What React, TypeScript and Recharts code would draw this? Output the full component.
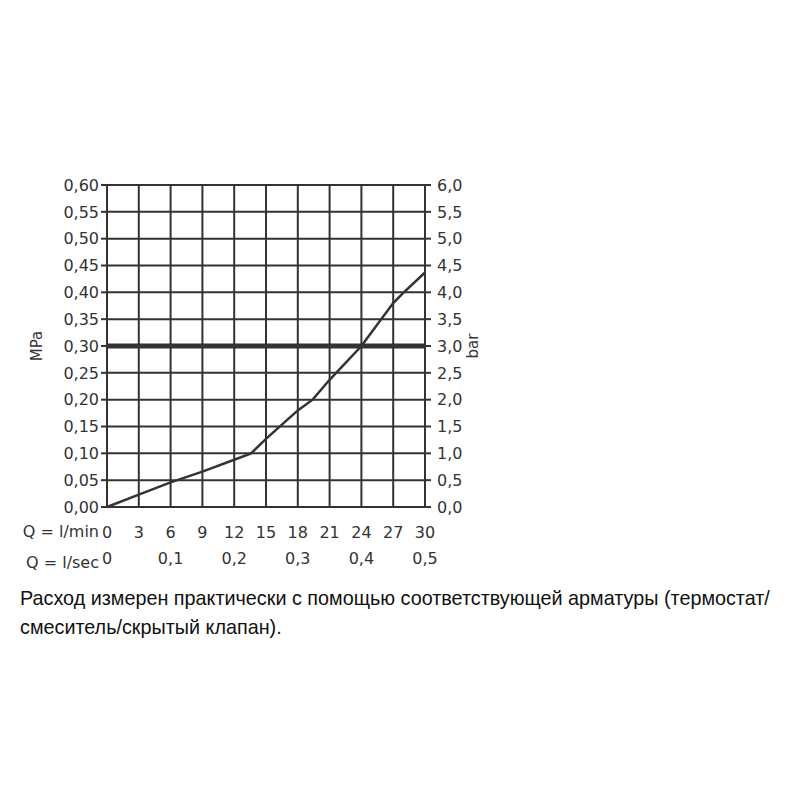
import { CartesianGrid, Label, Line, LineChart, ReferenceLine, XAxis, YAxis } from "recharts";

// flow in l/min vs pressure in MPa
const flowLpm = [0, 3, 6, 9, 12, 13.6, 15, 18, 19.4, 21, 24, 27, 28, 30];
const pressureMpa = [0, 0.023, 0.046, 0.066, 0.088, 0.1, 0.127, 0.18, 0.2, 0.237, 0.3, 0.38, 0.4, 0.437];

const lpmTicks = [0, 3, 6, 9, 12, 15, 18, 21, 24, 27, 30];
const lpsTicks = [0, 0.1, 0.2, 0.3, 0.4, 0.5];
const mpaTicks = [0, 0.05, 0.1, 0.15, 0.2, 0.25, 0.3, 0.35, 0.4, 0.45, 0.5, 0.55, 0.6];
const barTicks = [0, 0.5, 1, 1.5, 2, 2.5, 3, 3.5, 4, 4.5, 5, 5.5, 6];
const limitMpa = 0.3;

const captionLines = [
  "Расход измерен практически с помощью соответствующей арматуры (термостат/",
  "смеситель/скрытый клапан).",
];

// l/sec and bar are just the same values on a second scale
const data = flowLpm.map((q, i) => ({ q, qs: q / 60, p: pressureMpa[i], bar: pressureMpa[i] * 10 }));

const ink = "#333333";
const comma = (v: number, d: number) => v.toFixed(d).replace(".", ",");
const font = "DejaVu Sans";
const tickStyle = { fill: ink, fontSize: 16, fontFamily: font };

export default function App() {
  return (
    <div style={{ position: "absolute", left: 0, top: 0, width: 800, height: 800, background: "#fff" }}>
      <LineChart
        width={800}
        height={600}
        data={data}
        margin={{ top: 185, right: 315, bottom: 33, left: 47 }}
      >
        <CartesianGrid
          xAxisId="lpm"
          yAxisId="mpa"
          stroke={ink}
          strokeWidth={2}
          strokeDasharray=""
        />
        <XAxis
          xAxisId="lpm"
          dataKey="q"
          type="number"
          domain={[0, 30]}
          ticks={lpmTicks}
          interval={0}
          height={30}
          axisLine={{ stroke: ink, strokeWidth: 2 }}
          tickLine={false}
          tickMargin={14}
          tick={tickStyle}
        >
          <Label
            value="Q = l/min"
            position="left"
            offset={8}
            dy={9}
            style={{ fill: ink, fontSize: 16, fontFamily: font }}
          />
        </XAxis>
        <XAxis
          xAxisId="lps"
          dataKey="qs"
          type="number"
          domain={[0, 0.5]}
          ticks={lpsTicks}
          interval={0}
          height={30}
          axisLine={false}
          tickLine={false}
          tickMargin={10}
          tick={tickStyle}
          tickFormatter={(v: number) => (v === 0 ? "0" : comma(v, 1))}
        >
          <Label
            value="Q = l/sec"
            position="left"
            offset={8}
            dy={10}
            style={{ fill: ink, fontSize: 16, fontFamily: font }}
          />
        </XAxis>
        <YAxis
          yAxisId="mpa"
          orientation="left"
          type="number"
          domain={[0, 0.6]}
          ticks={mpaTicks}
          interval={0}
          width={60}
          axisLine={{ stroke: ink, strokeWidth: 2 }}
          tickLine={{ stroke: ink, strokeWidth: 2 }}
          tickSize={6}
          tickMargin={2}
          tick={tickStyle}
          tickFormatter={(v: number) => comma(v, 2)}
        >
          <Label
            value="MPa"
            angle={-90}
            position="insideLeft"
            offset={-10}
            style={{ fill: ink, fontSize: 15, fontFamily: font, textAnchor: "middle" }}
          />
        </YAxis>
        <YAxis
          yAxisId="bar"
          dataKey="bar"
          orientation="right"
          type="number"
          domain={[0, 6]}
          ticks={barTicks}
          interval={0}
          width={60}
          axisLine={{ stroke: ink, strokeWidth: 2 }}
          tickLine={{ stroke: ink, strokeWidth: 2 }}
          tickSize={6}
          tickMargin={6}
          tick={tickStyle}
          tickFormatter={(v: number) => comma(v, 1)}
        >
          <Label
            value="bar"
            angle={-90}
            position="insideRight"
            offset={12}
            style={{ fill: ink, fontSize: 15, fontFamily: font, textAnchor: "middle" }}
          />
        </YAxis>
        <ReferenceLine
          xAxisId="lpm"
          yAxisId="mpa"
          y={limitMpa}
          stroke={ink}
          strokeWidth={5}
        />
        <Line
          xAxisId="lpm"
          yAxisId="mpa"
          dataKey="p"
          type="linear"
          stroke={ink}
          strokeWidth={2.5}
          dot={false}
          isAnimationActive={false}
        />
      </LineChart>
      <div
        style={{
          position: "absolute",
          left: 20,
          top: 584,
          fontFamily: "Liberation Sans",
          fontSize: 19.8,
          lineHeight: "29px",
          color: "#111",
          whiteSpace: "nowrap",
        }}
      >
        {captionLines.map((l) => (
          <div key={l}>{l}</div>
        ))}
      </div>
    </div>
  );
}
